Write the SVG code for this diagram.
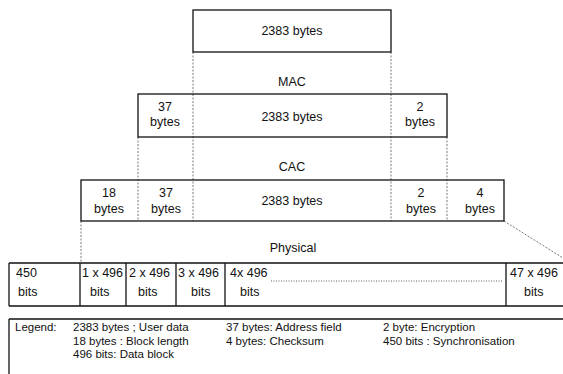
<svg xmlns="http://www.w3.org/2000/svg" width="563" height="374" viewBox="0 0 563 374">
<style>
.s{fill:none;stroke:#111;stroke-width:1.3}
.d{fill:none;stroke:#555;stroke-width:0.8;stroke-dasharray:2,1.5}
.t{font-family:"Liberation Sans",Arial,sans-serif;font-size:12.5px;fill:#111}
.c{text-anchor:middle}
.l{font-family:"Liberation Sans",Arial,sans-serif;font-size:11.5px;fill:#111}
</style>
<rect width="563" height="374" fill="#fff"/>
<g id="connectors">
<line class="d" x1="193" y1="52" x2="193" y2="221"/>
<line class="d" x1="391" y1="52" x2="391" y2="221"/>
<line class="d" x1="138" y1="137" x2="138" y2="221"/>
<line class="d" x1="447" y1="137" x2="447" y2="221"/>
<line class="d" x1="81" y1="221" x2="81" y2="263"/>
<line class="d" x1="504" y1="221" x2="563" y2="258"/>
</g>
<g id="user-data">
<rect class="s" x="193" y="10" width="198" height="42"/>
<text class="t c" x="292" y="35">2383 bytes</text>
</g>
<g id="mac-label"><text class="t c" x="292" y="86">MAC</text></g>
<g id="mac-frame">
<rect class="s" x="138" y="94" width="309" height="43"/>
<text class="t c" x="165" y="111">37</text>
<text class="t c" x="165" y="126">bytes</text>
<text class="t c" x="292" y="121">2383 bytes</text>
<text class="t c" x="420" y="111">2</text>
<text class="t c" x="420" y="126">bytes</text>
</g>
<g id="cac-label"><text class="t c" x="292" y="171">CAC</text></g>
<g id="cac-frame">
<rect class="s" x="81" y="180" width="423" height="41"/>
<text class="t c" x="109" y="197">18</text>
<text class="t c" x="109" y="213">bytes</text>
<text class="t c" x="166" y="197">37</text>
<text class="t c" x="166" y="213">bytes</text>
<text class="t c" x="292" y="205">2383 bytes</text>
<text class="t c" x="421" y="197">2</text>
<text class="t c" x="421" y="213">bytes</text>
<text class="t c" x="480" y="197">4</text>
<text class="t c" x="480" y="213">bytes</text>
</g>
<g id="physical-label"><text class="t c" x="293" y="252">Physical</text></g>
<g id="physical-frame">
<line class="s" x1="9" y1="263" x2="563" y2="263"/>
<line class="s" x1="9" y1="306" x2="563" y2="306"/>
<line class="s" x1="9" y1="263" x2="9" y2="306"/>
<line class="s" x1="80" y1="263" x2="80" y2="306"/>
<line class="s" x1="126" y1="263" x2="126" y2="306"/>
<line class="s" x1="176" y1="263" x2="176" y2="306"/>
<line class="s" x1="225" y1="263" x2="225" y2="306"/>
<line class="s" x1="506" y1="263" x2="506" y2="306"/>
<line fill="none" stroke="#333" stroke-width="0.8" stroke-dasharray="1,1.5" x1="271" y1="281" x2="503" y2="281"/>
<text class="t" x="16" y="277">450</text>
<text class="t" x="18" y="296">bits</text>
<text class="t" x="82" y="277">1 x 496</text>
<text class="t" x="90" y="296">bits</text>
<text class="t" x="129" y="277">2 x 496</text>
<text class="t" x="138" y="296">bits</text>
<text class="t" x="178" y="277">3 x 496</text>
<text class="t" x="191" y="296">bits</text>
<text class="t" x="230" y="277">4x 496</text>
<text class="t" x="240" y="296">bits</text>
<text class="t" x="510" y="277">47 x 496</text>
<text class="t" x="524" y="296">bits</text>
</g>
<g id="legend">
<line class="s" x1="9" y1="319" x2="563" y2="319" stroke-width="1"/>
<line class="s" x1="9" y1="319" x2="9" y2="374" stroke-width="1"/>
<text class="l" x="15" y="331">Legend:</text>
<text class="l" x="73" y="331">2383 bytes ; User data</text>
<text class="l" x="73" y="345">18 bytes : Block length</text>
<text class="l" x="73" y="358">496 bits: Data block</text>
<text class="l" x="226" y="331">37 bytes: Address field</text>
<text class="l" x="226" y="345">4 bytes: Checksum</text>
<text class="l" x="383" y="331">2 byte: Encryption</text>
<text class="l" x="383" y="345">450 bits : Synchronisation</text>
</g>
</svg>
